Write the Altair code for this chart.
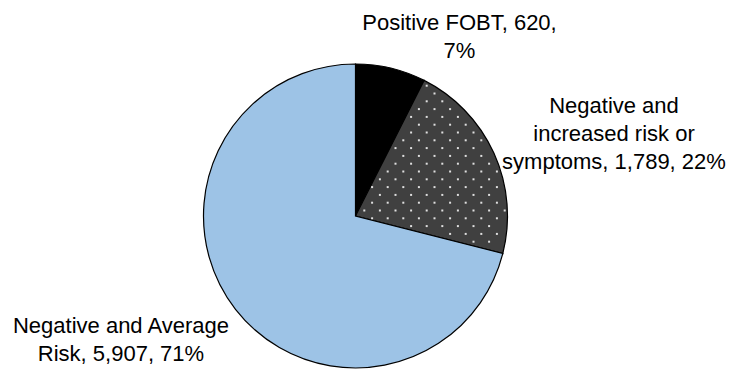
import altair as alt
import numpy as np
import pandas as pd

# ---- data ----
categories = ["Positive FOBT", "Negative and increased risk or symptoms", "Negative and Average Risk"]
counts = [620, 1789, 5907]
percents = ["7%", "22%", "71%"]
label_lines = [
    ["Positive FOBT, 620,", "7%"],
    ["Negative and", "increased risk or", "symptoms, 1,789, 22%"],
    ["Negative and Average", "Risk, 5,907, 71%"],
]
colors = ["#000000", "#404040", "#9DC3E6"]

W, H = 731, 371
CX, CY, R = 355.5, 216.0, 152.0
FONT = "Liberation Sans"

df = pd.DataFrame({"category": categories, "count": counts, "order": [0, 1, 2]})

pie = alt.Chart(df).mark_arc(
    outerRadius=R, stroke="#000000", strokeWidth=1.2
).encode(
    theta=alt.Theta("count:Q", stack=True),
    order=alt.Order("order:Q"),
    color=alt.Color("category:N", scale=alt.Scale(domain=categories, range=colors), legend=None),
    x=alt.value(CX),
    y=alt.value(CY),
)

# dotted texture for the second slice (derived from the slice angles)
total = float(sum(counts))
a0 = counts[0] / total * 2 * np.pi
a1 = (counts[0] + counts[1]) / total * 2 * np.pi
dx_step, dy_step = 15.6, 7.8
pts = []
for k in range(-20, 40):
    yy = 163.7 + k * dy_step
    off = 0.0 if k % 2 == 0 else dx_step / 2
    for j in range(-10, 20):
        xx = 426.7 + off + j * dx_step
        dx, dy = xx - CX, yy - CY
        r = np.hypot(dx, dy)
        ang = np.arctan2(dx, -dy) % (2 * np.pi)
        if r < R - 2.5 and a0 + 0.03 < ang < a1 - 0.03 and r > 6:
            pts.append((xx, yy))
dots_df = pd.DataFrame(pts, columns=["px", "py"])
dots = alt.Chart(dots_df).mark_square(size=4, color="#e0e0e0", opacity=1).encode(
    x=alt.X("px:Q", scale=None, axis=None),
    y=alt.Y("py:Q", scale=None, axis=None),
)

def label(lines, x, y, align):
    return alt.Chart(pd.DataFrame({"t": [lines]})).mark_text(
        font=FONT, fontSize=22, color="#000000", align=align,
        baseline="alphabetic", lineHeight=28,
    ).encode(text="t", x=alt.value(x), y=alt.value(y))

l1 = label(label_lines[0], 459.5, 29.5, "center")
l2 = label(label_lines[1], 614, 113, "center")
l3 = label(label_lines[2], 121, 333, "center")

chart = alt.layer(pie, dots, l1, l2, l3).properties(
    width=W, height=H, autosize=alt.AutoSizeParams(type="none"), padding=0
).configure_view(stroke=None)

chart.save("out.html", embed_options={"renderer": "svg", "actions": False})
